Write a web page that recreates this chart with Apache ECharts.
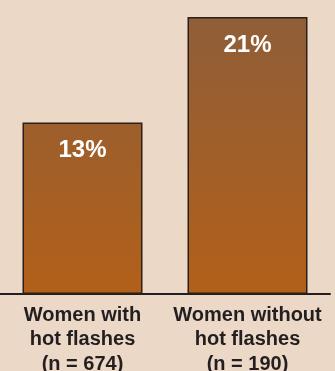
<!DOCTYPE html>
<html><head><meta charset="utf-8">
<script src="https://cdn.jsdelivr.net/npm/echarts@6/dist/echarts.min.js"></script>
<style>html,body{margin:0;padding:0;background:#ecd8c7;}#c{width:335px;height:371px;}</style>
</head><body><div id="c"></div>
<script>
const categories = ["Women with\nhot flashes\n(n = 674)", "Women without\nhot flashes\n(n = 190)"];
const values = [13, 21];
const valueLabels = ["13%", "21%"];

const chart = echarts.init(document.getElementById('c'), null, {renderer: 'canvas'});
const font = '"Liberation Sans", Arial, sans-serif';
chart.setOption({
  backgroundColor: '#ecd8c7',
  animation: false,
  grid: {left: 0, right: 5, top: 17, bottom: 77, outerBoundsMode: 'none', containLabel: false},
  xAxis: {
    type: 'category', data: categories,
    axisLine: {lineStyle: {color: '#231f20', width: 2}},
    axisTick: {show: false},
    axisLabel: {color: '#231f20', fontFamily: font, fontWeight: 'bold', fontSize: 20, lineHeight: 24.5, margin: 9, interval: 0, hideOverlap: false}
  },
  yAxis: {type: 'value', min: 0, max: 21, show: false, splitLine: {show: false}},
  series: [{
    type: 'bar', data: values, barWidth: 120,
    itemStyle: {
      borderColor: '#2a2018', borderWidth: 1.5,
      color: new echarts.graphic.LinearGradient(0, 17, 0, 294, [
        {offset: 0, color: '#8f5e38'}, {offset: 1, color: '#b26019'}
      ], true)
    },
    label: {
      show: true, position: 'insideTop', distance: 16,
      formatter: p => valueLabels[p.dataIndex],
      color: '#ffffff', fontFamily: font, fontWeight: 'bold', fontSize: 24
    }
  }]
});
</script></body></html>
